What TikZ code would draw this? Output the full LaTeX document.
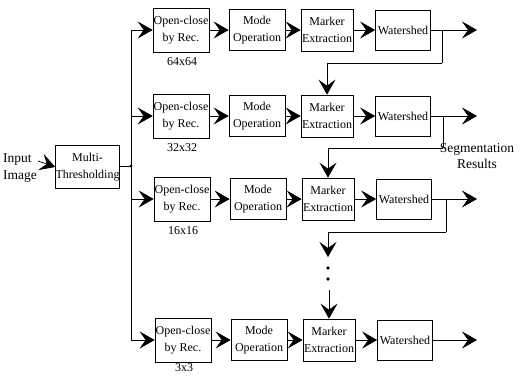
\documentclass[tikz,border=0pt]{standalone}
\usepackage{fontspec}
\setmainfont{Liberation Serif}
\usetikzlibrary{arrows.meta}
\begin{document}
\begin{tikzpicture}[x=1pt,y=-1pt,
  blk/.style={draw, line width=0.7pt, inner sep=0pt, align=center, font=\fontsize{12}{17}\selectfont},
  ocbox/.style={blk, minimum width=56pt, minimum height=44pt},
  mobox/.style={blk, minimum width=56pt, minimum height=41pt},
  mebox/.style={blk, minimum width=52pt, minimum height=42pt},
  wsbox/.style={blk, minimum width=55pt, minimum height=40pt},
  mtbox/.style={blk, minimum width=61pt, minimum height=43pt},
  arr/.style={-{Stealth[length=15pt,width=17pt,inset=6pt]}, line width=0.7pt},
  ln/.style={line width=0.7pt},
  lbl/.style={font=\fontsize{12}{17}\selectfont, inner sep=0pt, align=center}]
\useasboundingbox (0,0) rectangle (521,375);

\node[lbl, align=left, anchor=west, font=\fontsize{13.5}{17}\selectfont] (inp) at (3,168) {Input\\Image};
\node[mtbox] (mt) at (87.5,167) {Multi-\\Thresholding};
\coordinate (ia) at (38,161);
\draw[arr] (ia) -- (mt.west);
\coordinate (jn) at (131,166);
\draw[ln] (mt.east |- jn) -- (jn);
\fill (jn) circle (1.6);

\foreach \r/\y/\dx/\lab in {1/30/0/64x64, 2/116/0/32x32, 3/199/1/16x16, 4/340/2/3x3} {
  \node[ocbox] (oc\r) at (181+\dx,\y) {Open-close\\by Rec.};
  \node[mobox] (mo\r) at (257+\dx,\y) {Mode\\Operation};
  \node[mebox] (me\r) at (327+\dx,\y) {Marker\\Extraction};
  \node[wsbox] (ws\r) at (403+\dx,\y) {Watershed};
  \coordinate (in\r) at (131,\y);
  \coordinate (out\r) at (477,\y);
  \draw[arr] (in\r) -- (oc\r);
  \draw[arr] (oc\r) -- (mo\r);
  \draw[arr] (mo\r) -- (me\r);
  \draw[arr] (me\r) -- (ws\r);
  \draw[arr] (ws\r) -- (out\r);
}
\node[lbl] (sz1) at (182,62) {64x64};
\node[lbl] (sz2) at (182,148) {32x32};
\node[lbl] (sz3) at (183,231) {16x16};
\node[lbl] (sz4) at (184,368) {3x3};
\draw[ln] (in1) -- (in4);

% feedback branches
\coordinate (br1) at (442,30);  \coordinate (k1) at (442,63);
\coordinate (br2) at (443,116); \coordinate (k2) at (443,148);
\coordinate (br3) at (446,199); \coordinate (k3) at (446,232);
\draw[ln] (br1) -- (k1);
\draw[arr] (k1) -| (me2.north);
\draw[ln] (br2) -- (k2);
\draw[arr] (k2) -| (me3.north);
\draw[ln] (br3) -- (k3);
\coordinate (d1) at (328,257);
\draw[arr] (k3) -| (d1);
\fill (328,268) circle (1.9);
\fill (328,279) circle (1.9);
\coordinate (d2) at (329,290);
\draw[arr] (d2) -- (me4.north);

\node[lbl, font=\fontsize{13.5}{16}\selectfont] (seg) at (477,156) {Segmentation\\Results};
\end{tikzpicture}
\end{document}
